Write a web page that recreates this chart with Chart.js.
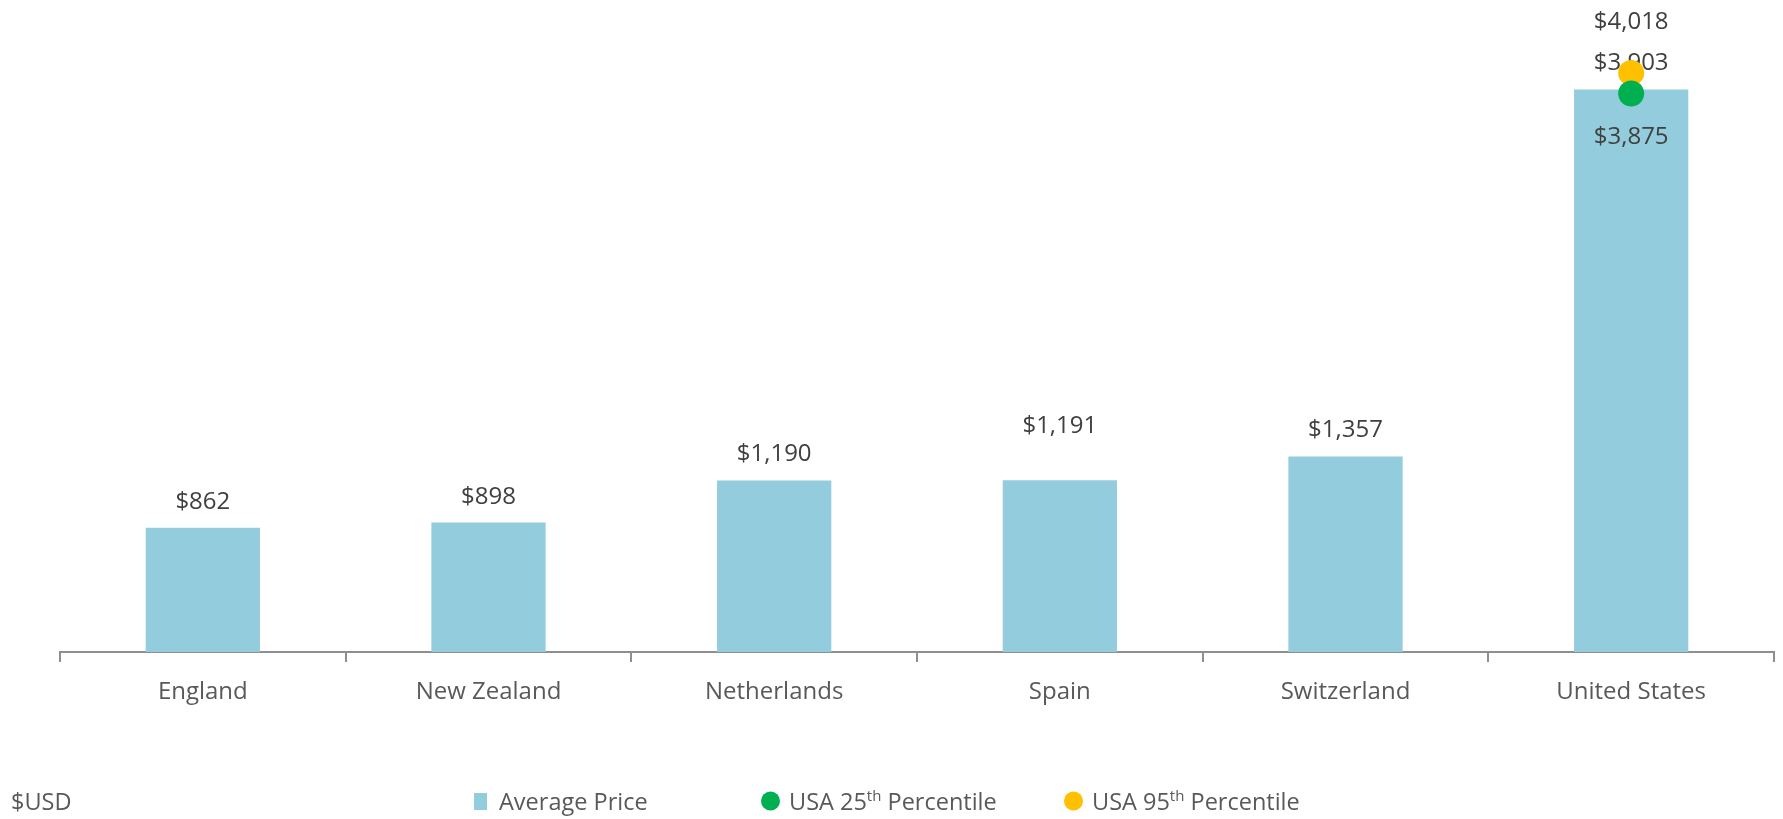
<!DOCTYPE html>
<html>
<head>
<meta charset="utf-8">
<script src="https://cdn.jsdelivr.net/npm/chart.js@4.4.0/dist/chart.umd.min.js"></script>
<style>
html, body { margin: 0; padding: 0; background: #fff; }
canvas { display: block; }
</style>
</head>
<body>
<canvas id="chart" width="1783" height="819"></canvas>
<script>
// values
const countries = ['England', 'New Zealand', 'Netherlands', 'Spain', 'Switzerland', 'United States'];
const averagePrice = [862, 898, 1190, 1191, 1357, 3903];
const usa25th = [null, null, null, null, null, 3875];
const usa95th = [null, null, null, null, null, 4018];
const unitLabel = '$USD';

const FONT = '"Open Sans", sans-serif';
const TEXT = '#595959';
const money = v => '$' + v.toLocaleString('en-US');

// draws "25th" style text with the suffix raised
function drawSupText(c, str, x, y, size) {
    const m = str.match(/^(.*?\d+)(th|st|nd|rd)(.*)$/);
    c.font = size + 'px ' + FONT;
    if (!m) { c.fillText(str, x, y); return; }
    c.fillText(m[1], x, y);
    x += c.measureText(m[1]).width;
    c.font = Math.round(size * 0.62) + 'px ' + FONT;
    c.fillText(m[2], x, y - 9);
    x += c.measureText(m[2]).width;
    c.font = size + 'px ' + FONT;
    c.fillText(m[3], x, y);
}

const valueLabels = {
    id: 'valueLabels',
    afterDatasetDraw(chart, args, opts) {
        const ds = chart.data.datasets[args.index];
        const c = chart.ctx;
        c.save();
        c.font = '24px ' + FONT;
        c.fillStyle = '#404040';
        c.textAlign = 'center';
        c.textBaseline = 'alphabetic';
        args.meta.data.forEach((el, i) => {
            const v = ds.data[i];
            if (v == null) return;
            const lift = (args.index === 0 && opts.lift[i]) ? opts.lift[i] : 0;
            c.fillText(money(v), el.x, el.y + ds.labelOffset - lift);
        });
        c.restore();
    }
};

const bottomLegend = {
    id: 'bottomLegend',
    afterDraw(chart, args, opts) {
        const c = chart.ctx;
        const base = opts.baseline;
        c.save();
        c.fillStyle = TEXT;
        c.textBaseline = 'alphabetic';
        c.textAlign = 'left';
        c.font = opts.size + 'px ' + FONT;
        c.fillText(opts.unit, opts.unitX, base);
        chart.data.datasets.forEach((ds, i) => {
            const x = opts.itemX[i];
            if (ds.type === 'line') {
                c.fillStyle = ds.pointBackgroundColor;
                c.beginPath();
                c.arc(x + 9.5, base - 9, 9.5, 0, Math.PI * 2);
                c.fill();
                c.fillStyle = TEXT;
                drawSupText(c, ds.label, x + 28, base, opts.size);
            } else {
                c.fillStyle = ds.backgroundColor;
                c.fillRect(x, base - 17, 13, 17);
                c.fillStyle = TEXT;
                drawSupText(c, ds.label, x + 25, base, opts.size);
            }
        });
        c.restore();
    }
};

const ctx = document.getElementById('chart').getContext('2d');
new Chart(ctx, {
    type: 'bar',
    data: {
        labels: countries,
        datasets: [
            {
                label: 'Average Price',
                data: averagePrice,
                backgroundColor: '#93cddd',
                borderWidth: 0,
                barPercentage: 0.4,
                categoryPercentage: 1,
                order: 3,
                labelOffset: -19
            },
            {
                type: 'line',
                label: 'USA 25th Percentile',
                data: usa25th,
                showLine: false,
                pointRadius: 13,
                pointBackgroundColor: '#00b050',
                pointBorderWidth: 0,
                order: 1,
                labelOffset: 50
            },
            {
                type: 'line',
                label: 'USA 95th Percentile',
                data: usa95th,
                showLine: false,
                pointRadius: 13,
                pointBackgroundColor: '#ffc000',
                pointBorderWidth: 0,
                order: 2,
                labelOffset: -44
            }
        ]
    },
    options: {
        responsive: false,
        animation: false,
        layout: {
            autoPadding: false,
            padding: { left: 60, right: 9, top: 2, bottom: 0 }
        },
        scales: {
            x: {
                grid: {
                    offset: true,
                    drawOnChartArea: false,
                    tickLength: 10,
                    color: '#8f8f8f',
                    lineWidth: 2
                },
                border: { color: '#8f8f8f', width: 2 },
                ticks: {
                    color: TEXT,
                    padding: 16,
                    font: { family: FONT, size: 24 }
                },
                afterFit(scale) { scale.height = 167; }
            },
            y: {
                display: false,
                min: 0,
                max: 4510
            }
        },
        plugins: {
            legend: { display: false },
            tooltip: { enabled: false },
            valueLabels: { lift: { 3: 28 } },
            bottomLegend: {
                unit: unitLabel,
                unitX: 11,
                baseline: 810,
                size: 23.5,
                itemX: [474, 761, 1064]
            }
        }
    },
    plugins: [valueLabels, bottomLegend]
});
</script>
</body>
</html>
